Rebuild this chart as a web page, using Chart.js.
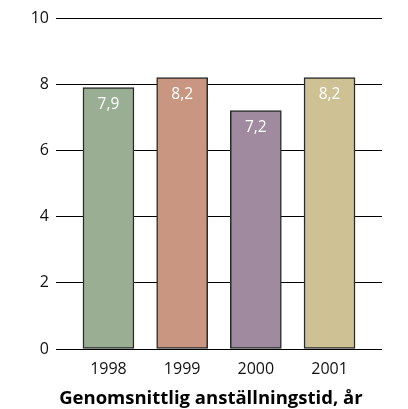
<!DOCTYPE html>
<html>
<head>
<meta charset="utf-8">
<script src="https://cdn.jsdelivr.net/npm/chart.js@4"></script>
<style>
html,body{margin:0;padding:0;background:#fff;}
#wrap{width:408px;height:409px;position:relative;}
</style>
</head>
<body>
<div id="wrap"><canvas id="c" width="408" height="409"></canvas></div>
<script>
const categories = ["1998", "1999", "2000", "2001"];
const values = [7.9, 8.2, 7.2, 8.2];
const valueLabels = ["7,9", "8,2", "7,2", "8,2"];
const yTicks = [0, 2, 4, 6, 8, 10];
const barColors = ["#9aae93", "#c99781", "#9f8aa0", "#cec295"];
const axisTitle = "Genomsnittlig anställningstid, år";

const FONT = "'Open Sans', 'DejaVu Sans', sans-serif";

const textPlugin = {
  id: 'texts',
  afterDatasetsDraw(chart) {
    const ctx = chart.ctx;
    const meta = chart.getDatasetMeta(0);
    ctx.save();
    ctx.fillStyle = '#ffffff';
    ctx.font = "15.5px " + FONT;
    ctx.textAlign = 'center';
    ctx.textBaseline = 'middle';
    meta.data.forEach((bar, i) => {
      ctx.fillText(valueLabels[i], bar.x, bar.y + 17);
    });
    ctx.restore();
  },
  afterDraw(chart) {
    const ctx = chart.ctx;
    const a = chart.chartArea;
    ctx.save();
    ctx.fillStyle = '#000';
    ctx.font = "bold 18.5px " + FONT;
    ctx.textAlign = 'center';
    ctx.textBaseline = 'alphabetic';
    ctx.fillText(axisTitle, a.left + (a.right - a.left) * 0.475, a.bottom + 55);
    ctx.restore();
  }
};

new Chart(document.getElementById('c'), {
  type: 'bar',
  data: {
    datasets: [{
      data: categories.map((c, i) => ({ x: i, y: values[i] })),
      backgroundColor: barColors,
      borderColor: '#2a2a2a',
      borderWidth: 1.5,
      borderSkipped: false,
      barThickness: 51
    }]
  },
  options: {
    responsive: false,
    animation: false,
    devicePixelRatio: 1,
    layout: { padding: { left: 0, right: 26, top: 18, bottom: 0 } },
    plugins: { legend: { display: false }, tooltip: { enabled: false } },
    scales: {
      x: {
        type: 'linear',
        offset: false,
        min: -0.712,
        max: 3.712,
        grid: { display: false, offset: false },
        border: { display: false },
        afterBuildTicks(scale) { scale.ticks = categories.map((c, i) => ({ value: i })); },
        afterFit(scale) { scale.height = 60; },
        ticks: {
          color: '#111',
          font: { family: FONT, size: 16 },
          padding: 3,
          maxRotation: 0,
          callback: (v) => categories[v]
        }
      },
      y: {
        min: 0,
        max: 10,
        afterBuildTicks(scale) { scale.ticks = yTicks.map(v => ({ value: v })); },
        afterFit(scale) { scale.width = 56; },
        grid: { color: '#000', lineWidth: 1, drawTicks: false },
        border: { display: false },
        ticks: {
          color: '#111',
          font: { family: FONT, size: 16 },
          padding: 7
        }
      }
    }
  },
  plugins: [textPlugin]
});
</script>
</body>
</html>
